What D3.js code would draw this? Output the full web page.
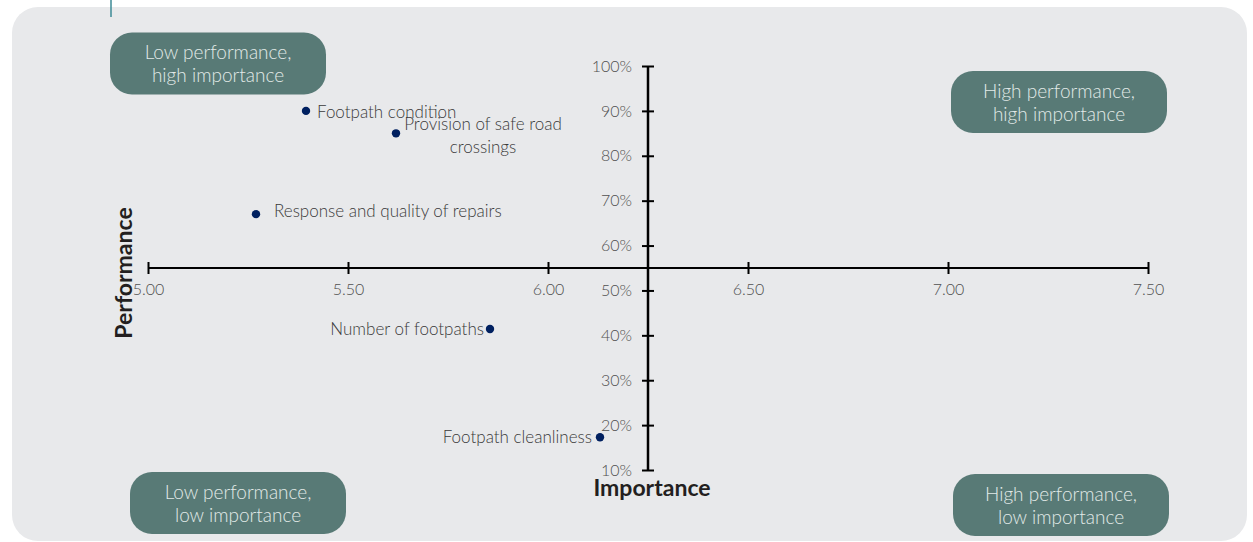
<!DOCTYPE html>
<html>
<head>
<meta charset="utf-8">
<script src="https://cdn.jsdelivr.net/npm/d3@7"></script>
<style>
  html, body { margin: 0; padding: 0; background: #ffffff; }
  svg { display: block; }
  text { font-family: "Lato", "Noto Sans", sans-serif; }
</style>
</head>
<body>
<div id="chart"></div>
<script>
// Footpath services: importance (mean score) versus performance (% satisfied)
const services    = ["Footpath condition", "Provision of safe road crossings", "Response and quality of repairs", "Number of footpaths", "Footpath cleanliness"];
const importance  = [5.395, 5.62, 5.27, 5.855, 6.13];
const performance = [0.90, 0.85, 0.67, 0.414, 0.173];

const xTickValues = [5.00, 5.50, 6.00, 6.50, 7.00, 7.50];
const yTickValues = [0.10, 0.20, 0.30, 0.40, 0.50, 0.60, 0.70, 0.80, 0.90, 1.00];

const quadrantNames = [
  ["Low performance,", "high importance"],
  ["High performance,", "high importance"],
  ["Low performance,", "low importance"],
  ["High performance,", "low importance"]
];

const W = 1253, H = 542;
const svg = d3.select("#chart").append("svg").attr("width", W).attr("height", H);

// panel
svg.append("rect").attr("x", 12).attr("y", 7).attr("width", 1235).attr("height", 534)
  .attr("rx", 26).attr("fill", "#e8e9eb");
svg.append("line").attr("x1", 111).attr("x2", 111).attr("y1", 0).attr("y2", 17)
  .attr("stroke", "#3c8a96").attr("stroke-width", 1.5);

const x = d3.scaleLinear().domain([5.0, 7.5]).range([148, 1148]);
const y = d3.scaleLinear().domain([0.10, 1.00]).range([470, 66]);

const xCross = 0.55;  // horizontal axis sits at 55% performance
const yCross = 6.25;  // vertical axis sits at 6.25 importance

const tickColor = "#505050";

// horizontal axis
const xAxis = svg.append("g").attr("transform", `translate(0,${y(xCross)})`)
  .call(d3.axisBottom(x).tickValues(xTickValues).tickFormat(d3.format(".2f")).tickSize(6).tickPadding(7));
xAxis.select(".domain").attr("d", `M${x(5.0)},0H${x(7.5)}`).attr("stroke", "#000").attr("stroke-width", 2);
xAxis.selectAll(".tick line").attr("stroke", "#000").attr("stroke-width", 2).attr("y1", -6).attr("y2", 6);
xAxis.selectAll(".tick text").attr("fill", tickColor).attr("font-size", 16).attr("font-weight", 300)
  .attr("font-family", "Lato, 'Noto Sans', sans-serif").attr("dy", "0.85em");

// vertical axis
const yAxis = svg.append("g").attr("transform", `translate(${x(yCross)},0)`)
  .call(d3.axisLeft(y).tickValues(yTickValues).tickFormat(d3.format(".0%")).tickSize(6).tickPadding(10));
yAxis.select(".domain").attr("d", `M0,${y(0.10)}V${y(1.00)}`).attr("stroke", "#000").attr("stroke-width", 2.5);
yAxis.selectAll(".tick line").attr("stroke", "#000").attr("stroke-width", 2).attr("x1", -6).attr("x2", 6);
yAxis.selectAll(".tick text").attr("fill", tickColor).attr("font-size", 16).attr("font-weight", 300)
  .attr("font-family", "Lato, 'Noto Sans', sans-serif");

// axis titles
svg.append("text").attr("x", 652).attr("y", 496).attr("text-anchor", "middle")
  .attr("font-size", 23).attr("font-weight", 700).attr("fill", "#231f20").text("Importance");
svg.append("text").attr("transform", "translate(132,273) rotate(-90)").attr("text-anchor", "middle")
  .attr("font-size", 23).attr("font-weight", 700).attr("fill", "#231f20").text("Performance");

// quadrant badges
const badges = [
  { cx: 218,  cy: 63.5, lines: quadrantNames[0] },
  { cx: 1059, cy: 102,  lines: quadrantNames[1] },
  { cx: 238,  cy: 503,  lines: quadrantNames[2] },
  { cx: 1061, cy: 505,  lines: quadrantNames[3] }
];
const bw = 216, bh = 62;
const bg = svg.append("g").selectAll("g").data(badges).join("g")
  .attr("transform", d => `translate(${d.cx},${d.cy})`);
bg.append("rect").attr("x", -bw / 2).attr("y", -bh / 2).attr("width", bw).attr("height", bh)
  .attr("rx", 22).attr("fill", "#587a76");
bg.selectAll("text").data(d => d.lines).join("text")
  .attr("x", 0).attr("y", (d, i) => (i === 0 ? -11 : 12)).attr("dy", "0.35em")
  .attr("text-anchor", "middle").attr("font-size", 19).attr("font-weight", 300)
  .attr("fill", "#e2eae8").text(d => d);

// points
const pts = services.map((s, i) => ({ name: s, imp: importance[i], perf: performance[i] }));
svg.append("g").selectAll("circle").data(pts).join("circle")
  .attr("cx", d => x(d.imp)).attr("cy", d => y(d.perf)).attr("r", 4.2).attr("fill", "#002060");

// point labels (placement per point)
const labelPlace = [
  { dx: 11,  dy: 1,  anchor: "start",  lines: ["Footpath condition"] },
  { dx: 87,  dy: -9, anchor: "middle", lines: ["Provision of safe road", "crossings"] },
  { dx: 18,  dy: -3, anchor: "start",  lines: ["Response and quality of repairs"] },
  { dx: -6,  dy: 0,  anchor: "end",    lines: ["Number of footpaths"] },
  { dx: -8,  dy: 0,  anchor: "end",    lines: ["Footpath cleanliness"] }
];
const lg = svg.append("g").selectAll("text").data(pts).join("text")
  .attr("x", (d, i) => x(d.imp) + labelPlace[i].dx)
  .attr("y", (d, i) => y(d.perf) + labelPlace[i].dy)
  .attr("text-anchor", (d, i) => labelPlace[i].anchor)
  .attr("font-size", 17).attr("font-weight", 300).attr("fill", "#3a3a3a");
lg.each(function(d, i) {
  const t = d3.select(this);
  labelPlace[i].lines.forEach((ln, j) => {
    t.append("tspan").attr("x", x(d.imp) + labelPlace[i].dx)
      .attr("dy", j === 0 ? "0.35em" : "1.35em").text(ln);
  });
});
</script>
</body>
</html>
